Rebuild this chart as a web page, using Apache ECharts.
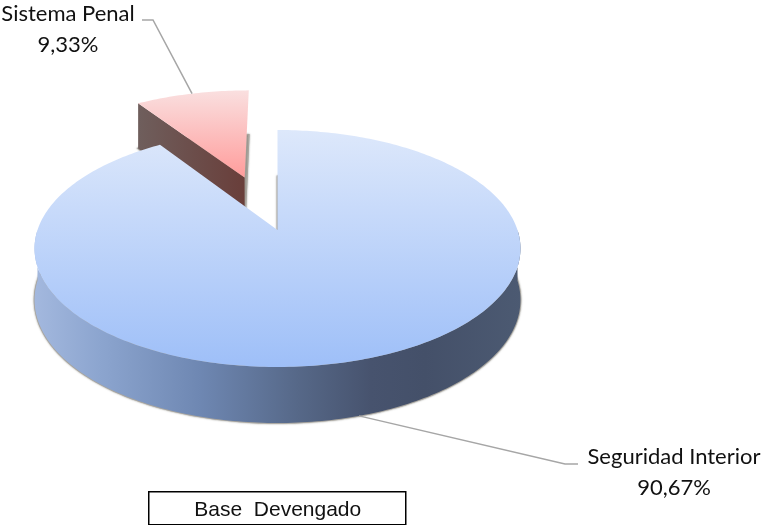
<!DOCTYPE html>
<html>
<head>
<meta charset="utf-8">
<style>
  html, body { margin: 0; padding: 0; background: #fff; }
  #chart { width: 763px; height: 525px; }
</style>
<script src="https://cdn.jsdelivr.net/npm/echarts@6/dist/echarts.min.js"></script>
</head>
<body>
<div id="chart"></div>
<script>
var categories = ['Seguridad Interior', 'Sistema Penal']
var shares = [90.67, 9.33]
var boxTitle = 'Base  Devengado'

// pie apex on screen, and the tilt of the disk
var apexX = 277.5
var apexY = 230
var scaleX = 240
var scaleY = 115.6
var tilt = 0.156
var depth = 50.7
var depthTilt = 0.095
var explode = [0, 0.51]
var blueStops = [
  { offset: 0, color: '#a3b8de' },
  { offset: 0.133, color: '#8ca5cf' },
  { offset: 0.34, color: '#6e87b2' },
  { offset: 0.54, color: '#566888' },
  { offset: 0.69, color: '#47536e' },
  { offset: 0.8, color: '#445069' },
  { offset: 1, color: '#4c5a72' }
]

var labelSpots = [
  { x: 674, y: 472, via: [[565, 464], [578, 464]] },
  { x: 68, y: 29, via: [[153, 20], [142, 20]] }
]

function toScreen (u, v, low) {
  var d = 1 + tilt * v
  var drop = low ? depth / (1 + depthTilt * v) : 0
  return [apexX + scaleX * u / d, apexY - scaleY * v / d + drop]
}

// angle in degrees, clockwise from the top of the pie
function diskPoint (deg, off, low) {
  var a = deg * Math.PI / 180
  return toScreen(off[0] + Math.sin(a), off[1] + Math.cos(a), low)
}

function arcPoints (from, to, off, low) {
  var pts = []
  var n = Math.max(2, Math.ceil(Math.abs(to - from)))
  for (var i = 0; i <= n; i++) {
    pts.push(diskPoint(from + (to - from) * i / n, off, low))
  }
  return pts
}

function slicePoints (from, to, off, low) {
  return [toScreen(off[0], off[1], low)].concat(arcPoints(from, to, off, low))
}

function sliceRange (idx) {
  var total = shares.reduce(function (s, v) { return s + v }, 0)
  var start = 0
  for (var i = 0; i < idx; i++) start += shares[i]
  return [start / total * 360, (start + shares[idx]) / total * 360]
}

function vGrad (y0, y1, c0, c1) {
  return new echarts.graphic.LinearGradient(0, y0, 0, y1, [
    { offset: 0, color: c0 }, { offset: 1, color: c1 }
  ], true)
}

function poly (points, style) {
  return { type: 'polygon', shape: { points: points }, style: style }
}

function renderSlice (params, api) {
  var idx = api.value(0)
  var range = sliceRange(idx)
  var from = range[0]
  var to = range[1]
  var mid = (from + to) / 2
  var rad = mid * Math.PI / 180
  var off = [explode[idx] * Math.sin(rad), explode[idx] * Math.cos(rad)]
  var children = []

  // bottom face, only its soft edge stays visible
  children.push(poly(slicePoints(from, to, off, true), {
    fill: '#a9a59e', stroke: '#a9a59e', lineWidth: 1.5,
    shadowBlur: 2, shadowColor: 'rgba(90,90,80,0.6)'
  }))

  if (idx === 0) {
    // front rim
    var top = arcPoints(90, 270, off, false)
    var low = arcPoints(270, 90, off, true)
    children.push(poly(top.concat(low), {
      fill: new echarts.graphic.LinearGradient(35, 0, 522, 0, blueStops, true)
    }))
    children.push(poly(slicePoints(from, to, off, false), {
      fill: vGrad(130, 367, '#dde8fb', '#9ebff8')
    }))
  } else {
    // cut wall on the left edge of the wedge
    var a = toScreen(off[0], off[1], false)
    var b = diskPoint(from, off, false)
    var c = diskPoint(from, off, true)
    var d = toScreen(off[0], off[1], true)
    children.push(poly([a, b, c, d], {
      fill: new echarts.graphic.LinearGradient(136, 0, 245, 0, [
        { offset: 0, color: '#6f5f5d' }, { offset: 1, color: '#693e3a' }
      ], true)
    }))
    children.push(poly(slicePoints(from, to, off, false), {
      fill: vGrad(91, 178, '#fadfdf', '#ff9c9b')
    }))
  }

  // leader line and label
  var spot = labelSpots[idx]
  var anchor = diskPoint(mid, off, idx === 0)
  children.push({
    type: 'polyline',
    shape: { points: [anchor].concat(spot.via) },
    style: { stroke: '#a6a6a6', lineWidth: 1.5, fill: null }
  })
  children.push({
    type: 'text',
    style: {
      x: spot.x,
      y: spot.y,
      text: categories[idx] + '\n' + String(shares[idx]).replace('.', ',') + '%',
      align: 'center',
      verticalAlign: 'middle',
      fontFamily: 'Lato',
      fontSize: 22,
      lineHeight: 31,
      fill: '#111'
    }
  })
  return { type: 'group', children: children }
}

var chart = echarts.init(document.getElementById('chart'), null, { renderer: 'canvas' })
chart.setOption({
  animation: false,
  backgroundColor: '#fff',
  series: [{
    type: 'custom',
    coordinateSystem: 'none',
    renderItem: renderSlice,
    // wedge first, the big slice sits over it
    data: [[1], [0]],
    encode: { value: 0 },
    silent: true
  }],
  graphic: [{
    type: 'group',
    left: 148,
    top: 491,
    children: [{
      type: 'rect',
      shape: { x: 0, y: 0, width: 257, height: 33 },
      style: { fill: '#fff', stroke: '#000', lineWidth: 1.5 }
    }, {
      type: 'text',
      style: {
        x: 129,
        y: 18,
        text: boxTitle,
        align: 'center',
        verticalAlign: 'middle',
        fontFamily: 'Liberation Sans',
        fontSize: 21,
        fill: '#111'
      }
    }]
  }]
})
</script>
</body>
</html>
